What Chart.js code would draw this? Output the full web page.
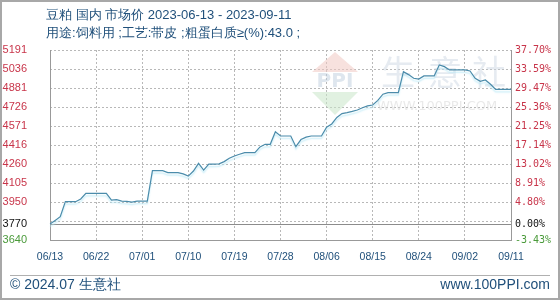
<!DOCTYPE html>
<html>
<head>
<meta charset="utf-8">
<script src="https://cdn.jsdelivr.net/npm/chart.js@4/dist/chart.umd.min.js"></script>
<style>
  html, body { margin: 0; padding: 0; background: #fff; }
  #wrap { width: 560px; height: 300px; position: relative; }
</style>
</head>
<body>
<div id="wrap"><canvas id="chart" width="560" height="300"></canvas></div>
<script>
// chart data
var dates = [
  '06/13','06/14','06/15','06/16','06/17','06/18','06/19','06/20','06/21','06/22',
  '06/23','06/24','06/25','06/26','06/27','06/28','06/29','06/30','07/01','07/02',
  '07/03','07/04','07/05','07/06','07/07','07/08','07/09','07/10','07/11','07/12',
  '07/13','07/14','07/15','07/16','07/17','07/18','07/19','07/20','07/21','07/22',
  '07/23','07/24','07/25','07/26','07/27','07/28','07/29','07/30','07/31','08/01',
  '08/02','08/03','08/04','08/05','08/06','08/07','08/08','08/09','08/10','08/11',
  '08/12','08/13','08/14','08/15','08/16','08/17','08/18','08/19','08/20','08/21',
  '08/22','08/23','08/24','08/25','08/26','08/27','08/28','08/29','08/30','08/31',
  '09/01','09/02','09/03','09/04','09/05','09/06','09/07','09/08','09/09','09/10',
  '09/11'
];
var prices = [
  3770, 3800, 3830, 3953, 3953, 3953, 3975, 4021, 4021, 4021,
  4021, 4021, 3966, 3970, 3958, 3955, 3950, 3958, 3958, 3958,
  4206, 4206, 4206, 4190, 4190, 4190, 4180, 4162, 4203, 4266,
  4211, 4260, 4260, 4262, 4280, 4307, 4326, 4340, 4353, 4353,
  4353, 4400, 4421, 4421, 4524, 4489, 4489, 4489, 4402, 4460,
  4480, 4489, 4489, 4489, 4560, 4587, 4640, 4672, 4680, 4690,
  4701, 4720, 4735, 4742, 4780, 4830, 4843, 4843, 4843, 5014,
  4990, 4960, 4954, 4979, 4979, 4979, 5069, 5055, 5028, 5028,
  5028, 5028, 5020, 4960, 4935, 4946, 4911, 4870, 4870, 4870,
  4870
];
var tickValues = [3640, 3770, 3795.1, 3950.2, 4105.3, 4260.4, 4415.5, 4570.6, 4725.7, 4880.8, 5035.9, 5191];
var leftLabels = ['3640', '3770', '', '3950', '4105', '4260', '4416', '4571', '4726', '4881', '5036', '5191'];
var rightLabels = ['-3.43%', '0.00%', '', '4.80%', '8.91%', '13.02%', '17.14%', '21.25%', '25.36%', '29.47%', '33.59%', '37.70%'];
var titleText = '豆粕 国内 市场价 2023-06-13 - 2023-09-11';
var subText = '用途:饲料用 ;工艺:带皮 ;粗蛋白质≥(%):43.0 ;';

var baseValue = 3770;
var labelStep = 9; // one date label every 9 days

function labelColor(v) {
    if (v === baseValue) return '#111';
    if (v < baseValue) return '#4a9a3a';
    return '#c8354a';
}

function setTicks(scale) {
    scale.ticks = tickValues.map(function (v) { return { value: v }; });
}

const decor = {
    id: 'decor',
    beforeDatasetsDraw: (chart) => {
        // faint watermark: logo, 生意社 and url
        const ctx = chart.ctx;
        ctx.save();
        ctx.fillStyle = 'rgba(240,200,195,0.55)';
        ctx.beginPath();
        ctx.moveTo(335, 52); ctx.lineTo(312, 72); ctx.lineTo(358, 72); ctx.closePath();
        ctx.fill();
        ctx.fillStyle = 'rgba(200,230,200,0.55)';
        ctx.beginPath();
        ctx.moveTo(312, 92); ctx.lineTo(358, 92); ctx.lineTo(335, 115); ctx.closePath();
        ctx.fill();
        ctx.fillStyle = 'rgba(190,205,222,0.5)';
        ctx.font = 'bold 20px "DejaVu Sans"';
        ctx.textAlign = 'center';
        ctx.textBaseline = 'middle';
        ctx.fillText('PPI', 335, 82);
        ctx.fillStyle = 'rgba(205,216,228,0.5)';
        ctx.font = '34px "Noto Sans CJK SC"';
        ctx.fillText('生', 398, 72);
        ctx.fillText('意', 445, 72);
        ctx.fillText('社', 489, 72);
        ctx.fillStyle = 'rgba(215,215,215,0.55)';
        ctx.font = '13px "DejaVu Sans"';
        ctx.textAlign = 'left';
        ctx.fillText('WWW.100PPI.COM', 377, 107);
        ctx.restore();
    },
    beforeDatasetDraw: (chart) => {
        const ctx = chart.ctx;
        ctx.save();
        ctx.shadowColor = 'rgba(185,232,246,0.8)';
        ctx.shadowOffsetY = 2.5;
        ctx.shadowBlur = 1.5;
    },
    afterDatasetDraw: (chart) => {
        chart.ctx.restore();
    },
    afterDraw: (chart) => {
        const ctx = chart.ctx;
        const area = chart.chartArea;
        const y = chart.scales.y;
        ctx.save();
        ctx.fillStyle = '#1f4f7a';
        ctx.textBaseline = 'middle';
        ctx.font = '13px "Liberation Sans"';
        ctx.fillText(titleText, 46, 15);
        ctx.fillText(subText, 46, 33);
        ctx.font = '14px "Liberation Sans"';
        ctx.fillText('© 2024.07 生意社', 10, 285);
        ctx.textAlign = 'right';
        ctx.fillText('www.100PPI.com', 550, 285);
        ctx.strokeStyle = '#b0b0b0';
        ctx.lineWidth = 1;
        ctx.beginPath();
        ctx.moveTo(10, 275.5); ctx.lineTo(550, 275.5);
        ctx.stroke();
        ctx.strokeStyle = '#a8a8a8';
        ctx.lineWidth = 2;
        ctx.strokeRect(1, 1, 558, 298);

        // horizontal grid goes behind everything already drawn
        ctx.globalCompositeOperation = 'destination-over';
        ctx.lineWidth = 1;
        tickValues.forEach(function (v) {
            if (v === 3640) return;
            var py = Math.round(y.getPixelForValue(v)) + 0.5;
            if (v === baseValue) {
                ctx.strokeStyle = '#8c8c8c';
                ctx.setLineDash([]);
            } else {
                ctx.strokeStyle = '#b8b8b8';
                ctx.setLineDash([2, 2]);
            }
            ctx.beginPath();
            ctx.moveTo(area.left, py);
            ctx.lineTo(area.right, py);
            ctx.stroke();
        });
        ctx.setLineDash([]);
        // white page behind it all
        ctx.fillStyle = 'white';
        ctx.fillRect(0, 0, chart.width, chart.height);
        ctx.restore();
    }
};

var ctx = document.getElementById('chart').getContext('2d');
var myChart = new Chart(ctx, {
    type: 'line',
    data: {
        labels: dates,
        datasets: [{
            label: '豆粕',
            data: prices,
            borderColor: '#4b8cab',
            borderWidth: 1.2,
            pointRadius: 0,
            tension: 0,
            fill: false
        }]
    },
    options: {
        responsive: false,
        animation: false,
        layout: { padding: { top: 50, left: 0, right: 0, bottom: 0 } },
        plugins: {
            legend: { display: false },
            tooltip: { enabled: false }
        },
        scales: {
            x: {
                type: 'category',
                offset: false,
                border: { display: true, color: '#999', width: 1, dash: [2, 2] },
                grid: {
                    offset: false,
                    drawTicks: false,
                    lineWidth: 1,
                    color: (c) => (c.tick && c.tick.value > 0 && c.tick.value < dates.length - 1) ? '#b8b8b8' : 'rgba(0,0,0,0)'
                },
                afterBuildTicks: (s) => {
                    s.ticks = s.ticks.filter(function (t) { return t.value % labelStep === 0; });
                },
                ticks: {
                    autoSkip: false,
                    maxRotation: 0,
                    padding: 11,
                    color: '#1f4f7a',
                    font: { family: 'Liberation Sans', size: 10.5 },
                    callback: function (v) { return dates[v]; }
                },
                afterFit: (s) => { s.height = 60; }
            },
            y: {
                position: 'left',
                min: 3640,
                max: 5191,
                border: { display: true, color: '#999', width: 1 },
                grid: { display: false, drawTicks: false },
                afterBuildTicks: setTicks,
                ticks: {
                    autoSkip: false,
                    maxTicksLimit: 50,
                    padding: 23,
                    font: { family: 'Liberation Sans', size: 11 },
                    color: (c) => labelColor(c.tick.value),
                    callback: function (v, i) { return leftLabels[i]; }
                },
                afterFit: (s) => { s.width = 50; }
            },
            y2: {
                position: 'right',
                min: 3640,
                max: 5191,
                border: { display: true, color: '#999', width: 1 },
                grid: { display: false, drawTicks: false },
                afterBuildTicks: setTicks,
                ticks: {
                    autoSkip: false,
                    maxTicksLimit: 50,
                    padding: 4,
                    font: { family: 'DejaVu Sans Mono', size: 10 },
                    color: (c) => labelColor(c.tick.value),
                    callback: function (v, i) { return rightLabels[i]; }
                },
                afterFit: (s) => { s.width = 49; }
            }
        }
    },
    plugins: [decor]
});
</script>
</body>
</html>
